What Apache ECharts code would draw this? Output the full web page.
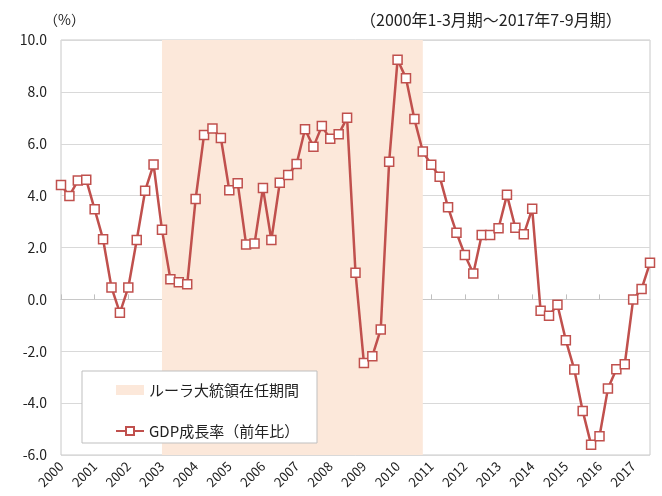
<!DOCTYPE html>
<html lang="ja">
<head>
    <meta charset="UTF-8">
    <script src="https://cdn.jsdelivr.net/npm/echarts@6/dist/echarts.min.js"></script>
    <title>ブラジルGDP成長率</title>
    <style>
        html,body{
            width:100%;
            height:100%;
            margin:0;
            padding:0;
            background:#fff;
        }
    </style>
</head>
<body>
    <div id="main" style="width:662px;height:496px"></div>
    <script>
        // 2000年1-3月期 ～ 2017年7-9月期
        var years = [];
        for (var y = 2000; y <= 2017; y++) years.push(y);
        var quarters = [];
        years.forEach(function (y) {
            [1, 2, 3, 4].forEach(function (q) {
                if (y === 2017 && q === 4) return;
                quarters.push(y + '-' + q);
            });
        });

        var gdpGrowth = [
            4.41, 3.99, 4.58, 4.61, 3.47, 2.32, 0.46, -0.52,
            0.46, 2.29, 4.19, 5.20, 2.68, 0.78, 0.66, 0.58,
            3.87, 6.34, 6.59, 6.22, 4.21, 4.48, 2.12, 2.15,
            4.29, 2.29, 4.50, 4.80, 5.22, 6.56, 5.88, 6.68,
            6.19, 6.37, 7.00, 1.03, -2.45, -2.19, -1.16, 5.31,
            9.24, 8.53, 6.95, 5.70, 5.19, 4.73, 3.55, 2.57,
            1.71, 1.00, 2.48, 2.48, 2.74, 4.03, 2.76, 2.51,
            3.49, -0.44, -0.63, -0.21, -1.58, -2.70, -4.30, -5.60,
            -5.28, -3.44, -2.69, -2.50, 0.00, 0.40, 1.41
        ];

        var lulaPeriod = ['2003-1', '2010-4'];
        var seriesNames = ['ルーラ大統領在任期間', 'GDP成長率（前年比）'];

        var font = '"Noto Sans CJK JP", sans-serif';
        var red = '#c0504d';
        var shade = '#fce8da';

        var myChart = echarts.init(document.getElementById('main'));
        var option = {
            animation: false,
            grid: {
                left: 61, right: 12, top: 40, bottom: 41,
                show: true,
                borderColor: '#c8c8c8',
                borderWidth: 1
            },
            graphic: [
                {
                    type: 'text', left: 44, top: 13, z: 5,
                    style: { text: '（%）', font: '14px ' + font, fill: '#222' }
                },
                {
                    type: 'text', left: 360, top: 12, z: 5,
                    style: { text: '（2000年1-3月期～2017年7-9月期）', font: '16px ' + font, fill: '#222' }
                },
                {
                    type: 'rect', z: 5,
                    shape: { x: 82, y: 371, width: 235, height: 72 },
                    style: { fill: '#fff', stroke: '#bfbfbf', lineWidth: 1 }
                }
            ],
            legend: {
                orient: 'vertical',
                left: 115,
                top: 382,
                z: 10,
                itemWidth: 28,
                itemHeight: 10,
                itemGap: 25,
                padding: 0,
                data: [
                    { name: seriesNames[0], icon: 'rect' },
                    { name: seriesNames[1] }
                ],
                textStyle: { fontFamily: font, fontSize: 15, lineHeight: 16, color: '#222' }
            },
            xAxis: {
                type: 'category',
                data: quarters,
                boundaryGap: false,
                axisLine: { lineStyle: { color: '#c8c8c8' } },
                axisTick: {
                    interval: 3,
                    inside: true,
                    length: 5,
                    lineStyle: { color: '#bfbfbf' }
                },
                axisLabel: {
                    interval: 3,
                    rotate: 45,
                    margin: 9,
                    fontFamily: font,
                    fontSize: 13,
                    color: '#222',
                    formatter: function (v) { return v.split('-')[0]; }
                },
                splitLine: { show: false }
            },
            yAxis: {
                type: 'value',
                min: -6,
                max: 10,
                interval: 2,
                axisLine: { show: false },
                axisTick: { show: false },
                axisLabel: {
                    margin: 14,
                    fontFamily: font,
                    fontSize: 14,
                    color: '#222',
                    formatter: function (v) { return v.toFixed(1); }
                },
                splitLine: { lineStyle: { color: '#d9d9d9', width: 1 } }
            },
            series: [
                {
                    name: seriesNames[0],
                    type: 'bar',
                    data: [],
                    itemStyle: { color: shade }
                },
                {
                    name: seriesNames[1],
                    type: 'line',
                    z: 3,
                    data: gdpGrowth,
                    symbol: 'rect',
                    symbolSize: 9,
                    showAllSymbol: true,
                    lineStyle: { color: red, width: 2.5 },
                    itemStyle: { color: '#fff', borderColor: red, borderWidth: 1.5 },
                    markArea: {
                        silent: true,
                        z: 1,
                        itemStyle: { color: shade },
                        data: [[{ xAxis: lulaPeriod[0] }, { xAxis: lulaPeriod[1] }]]
                    }
                }
            ]
        };
        myChart.setOption(option);
    </script>
</body>
</html>
